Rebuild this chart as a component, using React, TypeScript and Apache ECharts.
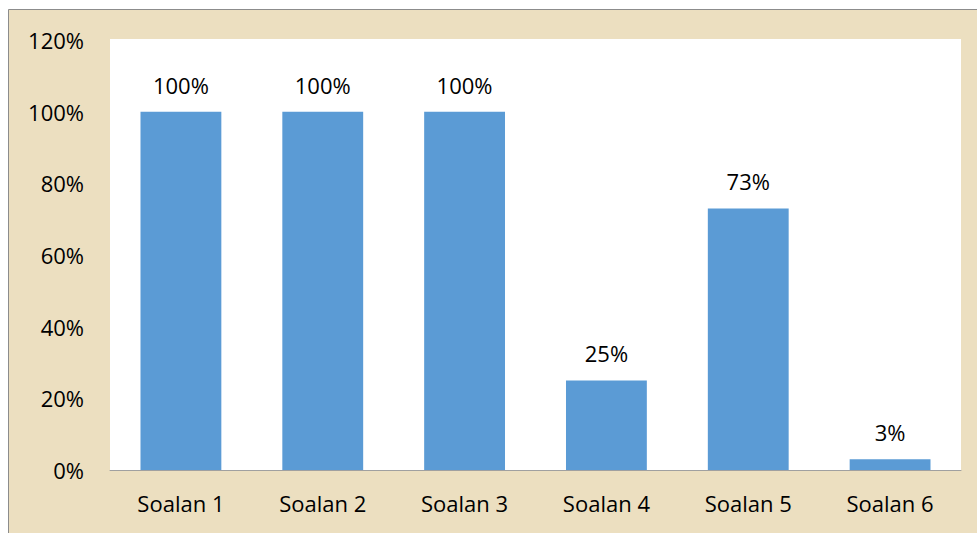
import React, { useEffect, useRef } from "react";
import * as echarts from "echarts";

const categories = ["Soalan 1", "Soalan 2", "Soalan 3", "Soalan 4", "Soalan 5", "Soalan 6"];
const values = [100, 100, 100, 25, 73, 3];
const yTicks = [0, 20, 40, 60, 80, 100, 120];

export default function App() {
  const ref = useRef<HTMLDivElement>(null);
  useEffect(() => {
    if (!ref.current) return;
    const chart = echarts.init(ref.current, null, { renderer: "svg" });
    const font = "Open Sans, Noto Sans, sans-serif";
    chart.setOption({
      animation: false,
      backgroundColor: "#FFFFFF",
      graphic: [
        {
          type: "rect",
          shape: { x: 8.5, y: 9.5, width: 1000, height: 600 },
          style: { fill: "#ECDFC0", stroke: "#8C8C8C", lineWidth: 1 },
          silent: true,
          z: -20,
        },
        {
          type: "rect",
          shape: { x: 110, y: 39, width: 851, height: 431 },
          style: { fill: "#FFFFFF" },
          silent: true,
          z: -10,
        },
      ],
      grid: { left: 110, top: 40, right: 16, bottom: 63, containLabel: false },
      xAxis: {
        type: "category",
        data: categories,
        axisLine: { lineStyle: { color: "#A0A0A0", width: 1 } },
        axisTick: { show: false },
        axisLabel: { color: "#000", fontSize: 22, fontFamily: font, margin: 22 },
      },
      yAxis: {
        type: "value",
        min: 0,
        max: 120,
        interval: 20,
        splitLine: { show: false },
        axisLine: { show: false },
        axisTick: { show: false },
        axisLabel: {
          color: "#000",
          fontSize: 22,
          fontFamily: font,
          margin: 26,
          formatter: (v: number) => (yTicks.includes(v) ? v + "%" : ""),
        },
      },
      series: [
        {
          type: "bar",
          data: values,
          barCategoryGap: "43%",
          itemStyle: { color: "#5B9BD5" },
          label: {
            show: true,
            position: "top",
            distance: 16,
            color: "#000",
            fontSize: 22,
            fontFamily: font,
            formatter: (p: any) => p.value + "%",
          },
        },
      ],
    });
    return () => chart.dispose();
  }, []);
  return <div ref={ref} style={{ position: "fixed", left: 0, top: 0, width: 977, height: 533 }} />;
}
